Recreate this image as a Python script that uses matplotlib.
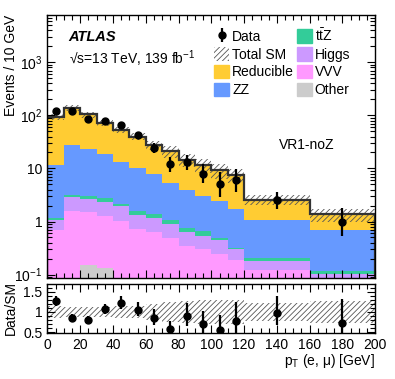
import numpy as np
import matplotlib
matplotlib.use('Agg')
import matplotlib.pyplot as plt
from matplotlib.patches import Patch
from matplotlib.ticker import FixedLocator, MultipleLocator, FuncFormatter

plt.rcParams['font.family'] = ['Liberation Sans', 'DejaVu Sans']
plt.rcParams['mathtext.fontset'] = 'custom'
plt.rcParams['mathtext.rm'] = 'Liberation Sans'
plt.rcParams['mathtext.it'] = 'Liberation Sans:italic'
plt.rcParams['mathtext.bf'] = 'Liberation Sans:bold'
plt.rcParams['hatch.color'] = '#555555'
plt.rcParams['hatch.linewidth'] = 0.6

# bins in pT (GeV), yields normalised to 10 GeV
edges = [0, 10, 20, 30, 40, 50, 60, 70, 80, 90, 100, 110, 120, 160, 200]

other = [0.03, 0.04, 0.15, 0.13, 0.03, 0.03, 0.02, 0.02, 0.02, 0.02, 0.01, 0.01, 0.01, 0.01]
vvv = [0.66, 1.52, 1.37, 1.13, 1.01, 0.69, 0.61, 0.46, 0.32, 0.28, 0.23, 0.18, 0.11, 0.06]
higgs = [0.36, 1.31, 1.11, 1.12, 0.88, 0.62, 0.54, 0.42, 0.30, 0.23, 0.20, 0.11, 0.06, 0.033]
ttz = [0.13, 0.26, 0.37, 0.34, 0.26, 0.27, 0.23, 0.19, 0.12, 0.13, 0.04, 0.01, 0.025, 0.012]
zz = [10.3, 24.1, 19.8, 15.7, 10.9, 8.5, 6.5, 4.3, 3.2, 2.4, 2.0, 1.43, 0.84, 0.57]
reducible = [83.5, 112.8, 81.2, 54.6, 40.9, 29.9, 20.1, 15.8, 10.6, 8.5, 6.7, 5.9, 1.53, 0.68]

# relative total uncertainty on SM
sm_unc = [0.14, 0.13, 0.13, 0.13, 0.14, 0.15, 0.20, 0.25, 0.28, 0.30, 0.30, 0.30, 0.22, 0.27]

# observed event counts per bin
data_counts = [121, 120, 84, 78, 66, 42, 24, 12, 13, 8, 5, 6, 10, 4]

edges = np.array(edges, dtype=float)
width = np.diff(edges)
centers = 0.5 * (edges[1:] + edges[:-1])
scale = width / 10.0

stack = [
    ('Other', other, '#cccccc'),
    ('VVV', vvv, '#ff99ff'),
    ('Higgs', higgs, '#cc99ff'),
    (r't$\bar{\mathrm{t}}$Z', ttz, '#33cc99'),
    ('ZZ', zz, '#6699ff'),
    ('Reducible', reducible, '#ffcc33'),
]

total = np.zeros(len(centers))
for _, v, _c in stack:
    total = total + np.array(v)
unc = np.array(sm_unc)

n = np.array(data_counts, dtype=float)
# Gehrels approximation for poisson intervals
up = n + np.sqrt(n + 0.75) + 1
lo = n * (1 - 1 / (9 * n) - 1 / (3 * np.sqrt(n))) ** 3
data = n / scale
err_hi = (up - n) / scale
err_lo = (n - lo) / scale

fig = plt.figure(figsize=(3.95, 3.79), dpi=100)
ax = fig.add_axes([0.120, 0.2678, 0.830, 0.6926])
rax = fig.add_axes([0.120, 0.1214, 0.830, 0.1293])

handles = {}
base = np.full(len(centers), 1e-4)
for name, v, c in stack:
    top = base + np.array(v)
    ax.stairs(top, edges, baseline=base, fill=True, color=c, lw=0)
    handles[name] = Patch(facecolor=c, edgecolor=c, label=name)
    base = top

ax.stairs(total * (1 + unc), edges, baseline=total * (1 - unc), fill=True,
          facecolor='none', edgecolor='#555555', hatch='//////', lw=0)
ax.stairs(total, edges, color='#333333', lw=1.6)
dat = ax.errorbar(centers, data, yerr=[err_lo, err_hi], fmt='o', color='black',
                  ms=5, elinewidth=1.6, capsize=0, label='Data')

ax.set_yscale('log')
ax.set_xlim(0, 200)
ax.set_ylim(0.088, 7800)
ax.yaxis.set_major_locator(FixedLocator([0.1, 1, 10, 100, 1000]))
labs = {0.1: r'$10^{-1}$', 1: '1', 10: '10', 100: r'$10^{2}$', 1000: r'$10^{3}$'}
ax.yaxis.set_major_formatter(FuncFormatter(lambda v, p: labs.get(round(v, 1) if v < 1 else round(v), '')))
ax.xaxis.set_major_locator(MultipleLocator(20))
ax.xaxis.set_minor_locator(MultipleLocator(5))
ax.tick_params(axis='x', labelbottom=False)
ax.set_ylabel('Events / 10 GeV', fontsize=10, loc='top')

for a in (ax, rax):
    a.tick_params(which='both', direction='in', top=True, right=True, labelsize=10)
    a.tick_params(which='major', length=6, width=0.8)
    a.tick_params(which='minor', length=3.5, width=0.8)
    for s in a.spines.values():
        s.set_linewidth(1.0)

ax.text(0.065, 0.9, 'ATLAS', transform=ax.transAxes, fontsize=10.5,
        fontweight='bold', style='italic')
ax.text(0.065, 0.815, '\u221as=13 TeV, 139 fb$^{-1}$', transform=ax.transAxes,
        fontsize=10)
ax.text(0.705, 0.49, 'VR1-noZ', transform=ax.transAxes, fontsize=10)

sm_handle = Patch(facecolor='none', edgecolor='#555555', hatch='//////', lw=0,
                  label='Total SM')
order = [dat, sm_handle, handles['Reducible'], handles['ZZ'],
         handles[r't$\bar{\mathrm{t}}$Z'], handles['Higgs'], handles['VVV'], handles['Other']]
names = ['Data', 'Total SM', 'Reducible', 'ZZ', r't$\bar{\mathrm{t}}$Z', 'Higgs', 'VVV', 'Other']
fig.legend(order, names, loc='upper left', bbox_to_anchor=(214 / 395, 1 - 27 / 379),
           ncol=2, frameon=False, fontsize=10, handlelength=1.1, handleheight=1.1,
           handletextpad=0.2, columnspacing=0.2, labelspacing=0.25, borderpad=0,
           borderaxespad=0)

# ratio panel
ratio = data / total
r_hi = err_hi / total
r_lo = err_lo / total
rax.stairs(1 + unc, edges, baseline=1 - unc, fill=True, facecolor='none',
           edgecolor='#555555', hatch='//////', lw=0)
rax.errorbar(centers, ratio, yerr=[r_lo, r_hi], fmt='o', color='black',
             ms=5, elinewidth=1.6, capsize=0)
rax.set_xlim(0, 200)
rax.set_ylim(0.48, 1.69)
rax.yaxis.set_major_locator(FixedLocator([0.5, 1, 1.5]))
rax.yaxis.set_major_formatter(FuncFormatter(lambda v, p: '1' if v == 1 else '%g' % v))
rax.yaxis.set_minor_locator(MultipleLocator(0.1))
rax.xaxis.set_major_locator(MultipleLocator(20))
rax.xaxis.set_minor_locator(MultipleLocator(5))
rax.set_ylabel('Data/SM', fontsize=10)
rax.yaxis.set_label_coords(-0.09, 0.5)
ax.yaxis.set_label_coords(-0.09, 1.0)
rax.set_xlabel('p$_{\\mathrm{T}}$ (e, \u03bc) [GeV]', fontsize=10, loc='right',
               labelpad=0)

fig.savefig('out.png', dpi=100)
